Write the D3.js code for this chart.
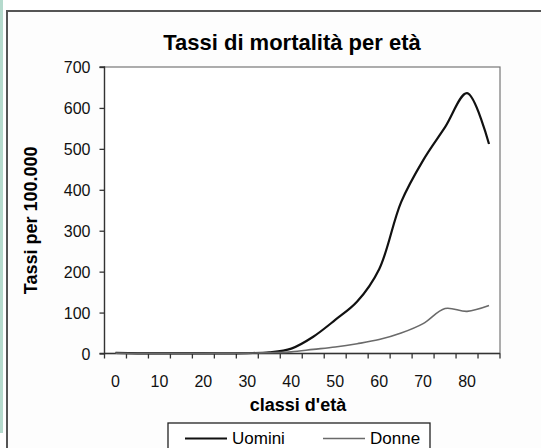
<!DOCTYPE html>
<html lang="it">
<head>
    <meta charset="UTF-8">
    <title>Tassi di mortalità per età</title>
    <script src="https://d3js.org/d3.v7.min.js"></script>
    <style>
        body {
            margin: 0;
            padding: 0;
            background-color: #fff;
            font-family: Arial, "Liberation Sans", sans-serif;
        }
        svg {
            display: block;
        }
        .axis text {
            font-size: 16px;
            fill: #111;
        }
        .axis path, .axis line {
            stroke: #333;
            stroke-width: 1.3px;
        }
    </style>
</head>
<body>
    <svg id="chart" width="541" height="448"></svg>

    <script>
        // age classes (5-year bands) and rates per 100.000
        const classi = [0, 5, 10, 15, 20, 25, 30, 35, 40, 45, 50, 55, 60, 65, 70, 75, 80, 85];
        const uomini = [1.5, 0.5, 0.5, 0.5, 0.5, 0.5, 1, 3, 12, 41, 82, 127, 206, 370, 472, 553, 636, 512];
        const donne = [1, 0, 0, 0, 0, 0.5, 1, 2, 4, 10, 16, 24, 34, 50, 73, 110, 103, 117];
        const xLabels = [0, 10, 20, 30, 40, 50, 60, 70, 80];
        const yTicks = [0, 100, 200, 300, 400, 500, 600, 700];

        const series = [
            { name: "Uomini", values: uomini, color: "#111", width: 2.2 },
            { name: "Donne", values: donne, color: "#6a6a6a", width: 1.6 }
        ];

        const svg = d3.select("#chart");
        const W = 541, H = 448;
        const margin = { left: 104.5, right: 41, top: 67, bottom: 94.5 };

        // side strip and outer frame
        svg.append("rect").attr("x", 0).attr("y", 0).attr("width", 3).attr("height", 433).attr("fill", "#b5dacd");
        svg.append("rect")
            .attr("x", 7).attr("y", 11)
            .attr("width", W + 20).attr("height", H + 20)
            .attr("fill", "#fdfdfd")
            .attr("stroke", "#555").attr("stroke-width", 2);

        const x = d3.scaleBand()
            .domain(classi)
            .range([margin.left, W - margin.right]);

        const y = d3.scaleLinear()
            .domain([0, 700])
            .range([H - margin.bottom, margin.top]);

        // plot area border (top + right)
        svg.append("rect")
            .attr("x", x.range()[0]).attr("y", y(700))
            .attr("width", x.range()[1] - x.range()[0]).attr("height", y(0) - y(700))
            .attr("fill", "#fff")
            .attr("stroke", "#777").attr("stroke-width", 1.2);

        // x axis: ticks at band edges, labels every other band
        const xg = svg.append("g").attr("class", "axis");
        xg.append("line")
            .attr("x1", x.range()[0]).attr("x2", x.range()[1])
            .attr("y1", y(0)).attr("y2", y(0));
        const edges = classi.map(c => x(c)).concat([x.range()[1]]);
        xg.selectAll(".tk").data(edges).join("line")
            .attr("class", "tk")
            .attr("x1", d => d).attr("x2", d => d)
            .attr("y1", y(0)).attr("y2", y(0) + 5);
        xg.selectAll(".lb").data(xLabels).join("text")
            .attr("class", "lb")
            .attr("x", d => x(d) + x.bandwidth() / 2)
            .attr("y", y(0) + 33.5)
            .attr("text-anchor", "middle")
            .text(d => d);

        // y axis
        const yAxis = d3.axisLeft(y).tickValues(yTicks).tickSize(5).tickPadding(9);
        svg.append("g")
            .attr("class", "axis")
            .attr("transform", `translate(${x.range()[0]},0)`)
            .call(yAxis)
            .call(g => g.select(".domain").attr("d", `M-5,${y(0)}H0V${y(700)}H-5`))
            .selectAll("text").attr("dy", "0.35em");

        // lines
        const line = d3.line()
            .x((d, i) => x(classi[i]) + x.bandwidth() / 2)
            .y(d => y(d))
            .curve(d3.curveCatmullRom.alpha(0.5));

        svg.append("g")
            .selectAll("path")
            .data(series)
            .join("path")
            .attr("fill", "none")
            .attr("stroke", d => d.color)
            .attr("stroke-width", d => d.width)
            .attr("d", d => line(d.values));

        // title and axis titles
        svg.append("text")
            .attr("x", 292).attr("y", 49.5)
            .attr("text-anchor", "middle")
            .style("font-size", "22px").style("font-weight", "bold")
            .text("Tassi di mortalità per età");

        svg.append("text")
            .attr("x", 298).attr("y", 410.5)
            .attr("text-anchor", "middle")
            .style("font-size", "18px").style("font-weight", "bold")
            .text("classi d'età");

        svg.append("text")
            .attr("transform", `translate(37,${(y(0) + y(700)) / 2 + 10}) rotate(-90)`)
            .attr("text-anchor", "middle")
            .style("font-size", "18px").style("font-weight", "bold")
            .text("Tassi per 100.000");

        // legend
        const lg = svg.append("g").attr("transform", "translate(168,423)");
        lg.append("rect")
            .attr("width", 262).attr("height", 40)
            .attr("fill", "#fff").attr("stroke", "#222").attr("stroke-width", 1.3);
        const item = lg.selectAll(".it").data(series).join("g")
            .attr("class", "it")
            .attr("transform", (d, i) => `translate(${17 + i * 138},15.5)`);
        item.append("line")
            .attr("x1", 0).attr("x2", 42)
            .attr("stroke", d => d.color).attr("stroke-width", d => d.width);
        item.append("text")
            .attr("x", 47).attr("dy", "0.35em")
            .style("font-size", "17px")
            .text(d => d.name);
    </script>
</body>
</html>
